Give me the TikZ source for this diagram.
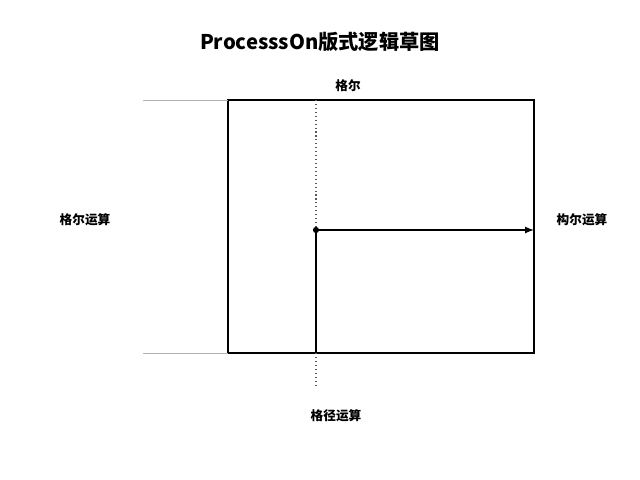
\documentclass[tikz,border=0pt]{standalone}
\usepackage{fontspec}
\setmainfont{Noto Sans CJK SC}
\begin{document}
\begin{tikzpicture}[x=0.025cm, y=-0.025cm,
    frame/.style={line width=1.2pt},
    guide/.style={gray!60, line width=0.6pt},
    label/.style={font=\small\bfseries}]
    % canvas
    \useasboundingbox (0,0) rectangle (640,480);
    % title
    \node[font=\Large\bfseries] (title) at (320,42) {ProcesssOn版式逻辑草图};
    % outer frame
    \draw[frame] (228,100) rectangle (534,353);
    \draw[guide] (143,100) -- (228,100);
    \draw[guide] (143,353) -- (228,353);
    % inner split
    \coordinate (top) at (316,100);
    \coordinate (pivot) at (316,230);
    \coordinate (foot) at (316,353);
    \coordinate (tail) at (316,388);
    \coordinate (rightend) at (534,230);
    \draw[dotted, gray!70!black, line width=0.8pt] (top) -- (pivot);
    \draw[dotted, gray!70!black, line width=0.8pt] (foot) -- (tail);
    \draw[frame] (pivot) -- (foot);
    \draw[frame, -latex] (pivot) -- (rightend);
    \fill (pivot) circle (2.2pt);
    % labels
    \node[label] (top label) at (348,86) {格尔};
    \node[label] (left label) at (85,220) {格尔运算};
    \node[label] (right label) at (582,220) {构尔运算};
    \node[label] (bottom label) at (336,416) {格径运算};
\end{tikzpicture}
\end{document}
